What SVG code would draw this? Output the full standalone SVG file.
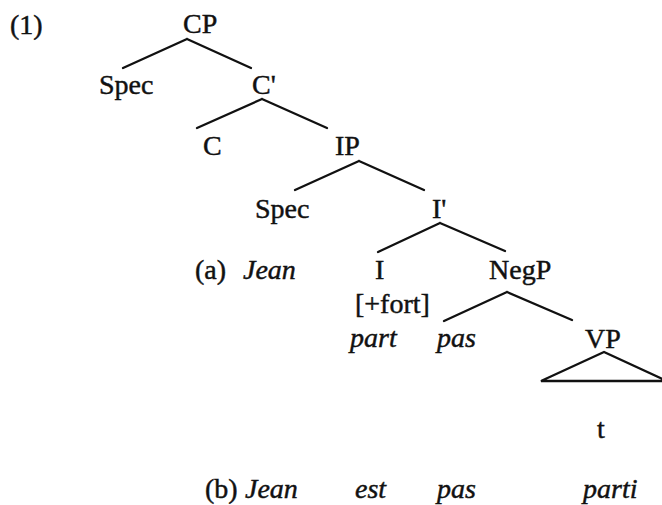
<svg xmlns="http://www.w3.org/2000/svg" width="662" height="505" viewBox="0 0 662 505">
  <style>
    text { font-family: "Liberation Serif", "Times New Roman", serif; font-size: 28px; fill: #111; stroke: #111; stroke-width: 0.45; }
    .it { font-style: italic; }
    .edge { stroke: #111; stroke-width: 2.3; fill: none; stroke-linecap: round; }
    .tri { stroke: #111; stroke-width: 2.3; fill: none; stroke-linejoin: miter; }
  </style>
  <rect width="662" height="505" fill="#ffffff"/>

  <!-- example number -->
  <g id="label-1"><text x="10" y="34">(1)</text></g>

  <!-- tree nodes -->
  <g id="node-CP"><text x="183" y="33">CP</text></g>
  <g id="node-SpecCP"><text x="99" y="94">Spec</text></g>
  <g id="node-Cbar"><text x="252" y="94">C'</text></g>
  <g id="node-C"><text x="203" y="155">C</text></g>
  <g id="node-IP"><text x="335" y="155">IP</text></g>
  <g id="node-SpecIP"><text x="255" y="218">Spec</text></g>
  <g id="node-Ibar"><text x="432" y="218">I'</text></g>
  <g id="node-I">
    <text x="375" y="279">I</text>
    <text x="355" y="313">[+fort]</text>
  </g>
  <g id="node-NegP"><text x="489" y="279">NegP</text></g>
  <g id="node-VP"><text x="585" y="348">VP</text></g>
  <g id="node-trace"><text x="597" y="438">t</text></g>

  <!-- line (a) -->
  <g id="row-a">
    <text x="195" y="279">(a)</text>
    <text class="it" x="243" y="279">Jean</text>
    <text class="it" x="350" y="347">part</text>
    <text class="it" x="437" y="347">pas</text>
  </g>

  <!-- line (b) -->
  <g id="row-b">
    <text x="205" y="498">(b)</text>
    <text class="it" x="245" y="498">Jean</text>
    <text class="it" x="355" y="498">est</text>
    <text class="it" x="437" y="498">pas</text>
    <text class="it" x="583" y="498">parti</text>
  </g>

  <!-- branches -->
  <g id="connectors">
    <path class="edge" d="M187 39 L123 68 M187 39 L251 68"/>
    <path class="edge" d="M262 99 L197 128 M262 99 L327 128"/>
    <path class="edge" d="M359 161 L295 190 M359 161 L424 190"/>
    <path class="edge" d="M440 223 L378 252 M440 223 L505 251"/>
    <path class="edge" d="M507 292 L444 321 M507 292 L572 320"/>
    <path class="tri" d="M604 352 L541 381 L667 381 Z"/>
  </g>
</svg>
